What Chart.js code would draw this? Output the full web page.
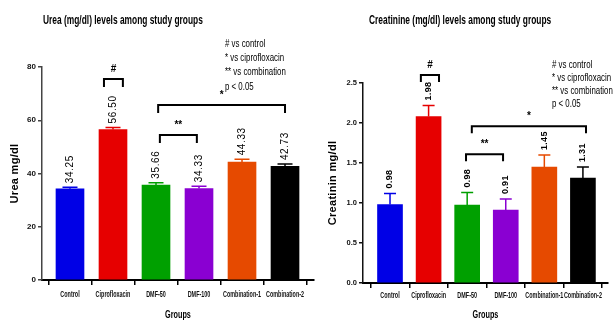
<!DOCTYPE html>
<html><head><meta charset="utf-8">
<script src="https://cdn.jsdelivr.net/npm/chart.js@4.4.1/dist/chart.umd.min.js"></script>
<style>
html,body{margin:0;padding:0;background:#fff;}
#wrap{position:relative;width:613px;height:320px;overflow:hidden;background:#fff;}
.box{position:absolute;top:0;height:320px;}
#b1{left:0;width:316px;}
#b2{left:316px;width:297px;}
</style></head><body>
<div id="wrap"><div class="box" id="b1"><canvas id="c1"></canvas></div><div class="box" id="b2"><canvas id="c2"></canvas></div></div>
<script>
// ---------- DATA ----------
const groups = ['Control', 'Ciprofloxacin', 'DMF-50', 'DMF-100', 'Combination-1', 'Combination-2'];
const barColors = ['#0000e6', '#e60000', '#00a000', '#8a00d2', '#e64a00', '#000000'];

const ureaMeans  = [34.25, 56.5, 35.66, 34.33, 44.33, 42.73];
const ureaErrors = [0.6, 0.8, 0.9, 0.9, 1.0, 0.8];
const ureaValueLabels = ['34.25', '56.50', '35.66', '34.33', '44.33', '42.73'];
const ureaTicks = [0, 20, 40, 60, 80];

const creatMeans  = [0.98, 2.08, 0.975, 0.91, 1.45, 1.31];
const creatErrors = [0.14, 0.14, 0.155, 0.14, 0.15, 0.14];
const creatValueLabels = ['0.98', '1.98', '0.98', '0.91', '1.45', '1.31'];
const creatTicks = [0, 0.5, 1.0, 1.5, 2.0, 2.5];

// significance brackets: from/to in category units, level in data units
const ureaBrackets = [
  {from: 0.79, to: 1.23, level: 75.5, mark: '#'},
  {from: 2.05, to: 5.0,  level: 65.7, mark: '*'},
  {from: 2.09, to: 2.95, level: 54.5, mark: '**'}
];
const creatBrackets = [
  {from: 0.80, to: 1.27, level: 2.60, mark: '#'},
  {from: 2.12, to: 5.08, level: 1.96, mark: '*'},
  {from: 1.97, to: 2.93, level: 1.61, mark: '**'}
];
const legendLines = ['# vs control', '* vs ciprofloxacin', '** vs combination', 'p < 0.05'];

// ---------- RENDER ----------
const SANS = "'Liberation Sans',Arial,sans-serif";

function txt(ctx, s, x, y, font, opt) {
  opt = opt || {};
  ctx.save();
  ctx.font = font;
  ctx.fillStyle = opt.color || '#000';
  ctx.textAlign = opt.align || 'left';
  ctx.textBaseline = 'middle';
  ctx.letterSpacing = opt.spacing || '0px';
  ctx.translate(x, y);
  if (opt.rot) ctx.rotate(opt.rot);
  if (opt.sx) ctx.scale(opt.sx, 1);
  ctx.fillText(s, 0, 0);
  ctx.restore();
}

function annotPlugin(o) {
  return {
    id: 'annot' + o.id,
    afterDatasetsDraw(chart) {
      const ctx = chart.ctx, xs = chart.scales.x, ys = chart.scales.y;
      const meta = chart.getDatasetMeta(0);
      const ca = chart.chartArea;
      ctx.save();
      // error bars + value labels
      o.means.forEach((m, i) => {
        const x = meta.data[i].x;
        const yBar = ys.getPixelForValue(m);
        const yTop = ys.getPixelForValue(m + o.errors[i]);
        ctx.strokeStyle = barColors[i];
        ctx.lineWidth = 1.5;
        ctx.beginPath();
        ctx.moveTo(x, yBar); ctx.lineTo(x, yTop);
        ctx.moveTo(x - o.cap / 2, yTop); ctx.lineTo(x + o.cap / 2, yTop);
        ctx.stroke();
        txt(ctx, o.valueLabels[i], x, yTop - o.labelGap, o.valueFont, {rot: -Math.PI / 2, spacing: o.valueSpacing});
      });
      // brackets
      o.brackets.forEach(b => {
        const x1 = xs.getPixelForValue(b.from), x2 = xs.getPixelForValue(b.to);
        const y = ys.getPixelForValue(b.level);
        ctx.strokeStyle = '#000'; ctx.lineWidth = 2;
        ctx.beginPath();
        ctx.moveTo(x1, y + o.leg); ctx.lineTo(x1, y); ctx.lineTo(x2, y); ctx.lineTo(x2, y + o.leg);
        ctx.stroke();
        txt(ctx, b.mark, (x1 + x2) / 2, y - o.markGap, 'bold 10px ' + SANS, {align: 'center'});
      });
      // x tick labels (positions from the library's x scale)
      xs.ticks.forEach(t => {
        txt(ctx, groups[t.value], xs.getPixelForValue(t.value), ca.bottom + o.xLabelOff,
            'bold 8.5px ' + SANS, {align: 'center', sx: 0.64, color: '#111'});
      });
      // title
      txt(ctx, o.title, o.titleX, 20, 'bold 13px ' + SANS, {sx: 0.645});
      // y title
      txt(ctx, o.yTitle, o.yTitleX, (ca.top + ca.bottom) / 2, 'bold 11px ' + SANS, {rot: -Math.PI / 2, align: 'center', spacing: '0.3px'});
      // x title
      txt(ctx, 'Groups', (ca.left + ca.right) / 2, 315, 'bold 11px ' + SANS, {align: 'center', sx: 0.66});
      // legend
      legendLines.forEach((l, i) => txt(ctx, l, o.legX, o.legY + i * o.legDy, '10.5px ' + SANS, {sx: 0.75}));
      ctx.restore();
    }
  };
}

function makeChart(canvasId, o) {
  return new Chart(document.getElementById(canvasId), {
    type: 'bar',
    data: {
      datasets: [{
        data: o.means.map((v, i) => ({x: i, y: v})),
        backgroundColor: barColors,
        borderWidth: 0,
        barThickness: o.barW
      }]
    },
    options: {
      responsive: true, maintainAspectRatio: false, animation: false,
      layout: {padding: o.pad},
      plugins: {legend: {display: false}, tooltip: {enabled: false}, title: {display: false}},
      scales: {
        x: {
          type: 'linear', min: o.xMin, max: o.xMax, offset: false,
          afterBuildTicks(s) { s.ticks = groups.map((g, i) => ({value: i})); },
          afterFit(s) { s.height = o.xHeight; },
          ticks: {display: false, autoSkip: false, maxRotation: 0, callback: v => groups[v]},
          grid: {display: true, drawOnChartArea: false, drawTicks: true, tickLength: 5, color: '#000', lineWidth: 1.5},
          border: {display: true, color: '#000', width: 2}
        },
        y: {
          min: 0, max: o.ticks[o.ticks.length - 1],
          afterBuildTicks(s) { s.ticks = o.ticks.map(v => ({value: v})); },
          afterFit(s) { s.width = o.yWidth; },
          ticks: {padding: 2, color: '#111', font: {family: SANS, size: o.yTickSize, weight: 'bold'}, callback: o.yFmt},
          grid: {display: true, drawOnChartArea: false, tickLength: 4, color: o.axisColor, lineWidth: 1.5},
          border: {display: true, color: o.axisColor, width: 1.5}
        }
      }
    },
    plugins: [annotPlugin(o)]
  });
}

makeChart('c1', {
  id: 1, means: ureaMeans, errors: ureaErrors, valueLabels: ureaValueLabels, ticks: ureaTicks,
  brackets: ureaBrackets, yFmt: v => String(v), yTickSize: 8,
  pad: {top: 67, left: 0, right: 2, bottom: 0}, yWidth: 42, xHeight: 40, xLabelOff: 15,
  xMin: -0.651, xMax: 5.674, barW: 28, cap: 15, labelGap: 4,
  valueFont: '10px ' + SANS, valueSpacing: '0.6px', leg: 8, markGap: 10,
  title: 'Urea (mg/dl) levels among study groups', titleX: 43,
  yTitle: 'Urea mg/dl', yTitleX: 15, legX: 225, legY: 44, legDy: 14.3, axisColor: '#444'
});

makeChart('c2', {
  id: 2, means: creatMeans, errors: creatErrors, valueLabels: creatValueLabels, ticks: creatTicks,
  brackets: creatBrackets, yFmt: v => Number(v).toFixed(1), yTickSize: 7.5,
  pad: {top: 83, left: 0, right: 5, bottom: 0}, yWidth: 47, xHeight: 37, xLabelOff: 13,
  xMin: -0.70, xMax: 5.65, barW: 25, cap: 12, labelGap: 5,
  valueFont: 'bold 9px ' + SANS, valueSpacing: '0.3px', leg: 7, markGap: 10,
  title: 'Creatinine (mg/dl) levels among study groups', titleX: 53,
  yTitle: 'Creatinin mg/dl', yTitleX: 17, legX: 236, legY: 65, legDy: 13, axisColor: '#111'
});
</script>
</body></html>
